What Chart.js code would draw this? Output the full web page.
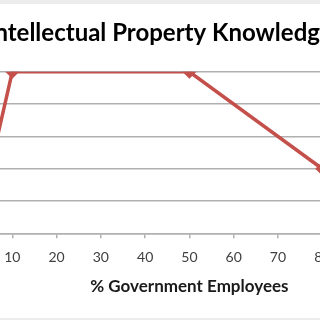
<!DOCTYPE html>
<html>
<head>
<meta charset="utf-8">
<script src="https://cdn.jsdelivr.net/npm/chart.js@4.4.1/dist/chart.umd.min.js"></script>
<style>
  html, body { margin: 0; padding: 0; }
  body { width: 320px; height: 320px; overflow: hidden; background: #ececec; position: relative; }
  /* the reference is a crop of a bigger chart, so the canvas hangs off both sides */
  #wrap { position: absolute; left: -103px; top: 4px; width: 537px; height: 314px; background: #fff; }
</style>
</head>
<body>
<div id="wrap"><canvas id="myChart" width="537" height="314"></canvas></div>
<script>
// values
const govEmployees = [5, 10, 50, 80];
const ipKnowledge = [2, 5, 5, 2];
const xTicks = [0, 10, 20, 30, 40, 50, 60, 70, 80, 90, 100];
const yTicks = [0, 1, 2, 3, 4, 5];

const lineRed = "#c4504c";
const gridGray = "#b0b0b0";

const points = govEmployees.map((x, i) => ({ x: x, y: ipKnowledge[i] }));

const ctx = document.getElementById("myChart").getContext("2d");
const myChart = new Chart(ctx, {
  type: "line",
  data: {
    datasets: [{
      data: points,
      borderColor: lineRed,
      backgroundColor: lineRed,
      borderWidth: 3.5,
      pointStyle: "rectRot",
      pointRadius: 7,
      pointBorderWidth: 0,
      tension: 0,
    }],
  },
  options: {
    responsive: false,
    animation: false,
    layout: { padding: { left: 0, right: 11, top: 0, bottom: 19 } },
    plugins: {
      legend: { display: false },
      tooltip: { enabled: false },
      title: {
        display: true,
        text: "Intellectual Property Knowledge",
        color: "#000",
        font: { family: "Lato", size: 24, weight: "bold" },
        padding: { top: 15, bottom: 24 },
      },
    },
    scales: {
      x: {
        type: "linear",
        min: xTicks[0],
        max: xTicks[xTicks.length - 1],
        afterBuildTicks: (scale) => { scale.ticks = xTicks.map(v => ({ value: v })); },
        grid: { drawOnChartArea: false, drawTicks: true, tickLength: 5, color: gridGray, lineWidth: 1.5 },
        border: { display: true, color: gridGray, width: 1.5 },
        ticks: { color: "#404040", font: { family: "Lato", size: 14 }, padding: 11, maxRotation: 0 },
        title: {
          display: true,
          text: "% Government Employees",
          color: "#1a1a1a",
          font: { family: "Lato", size: 17, weight: "bold", lineHeight: 1.05 },
          padding: { top: 0, bottom: 4 },
        },
      },
      y: {
        min: yTicks[0],
        max: yTicks[yTicks.length - 1],
        afterBuildTicks: (scale) => { scale.ticks = yTicks.map(v => ({ value: v })); },
        afterFit: (scale) => { scale.width = 71; },
        grid: { color: gridGray, lineWidth: 1.5, drawTicks: false },
        border: { display: false },
        ticks: { color: "#404040", font: { family: "Lato", size: 14 }, padding: 8 },
      },
    },
  },
});
</script>
</body>
</html>
